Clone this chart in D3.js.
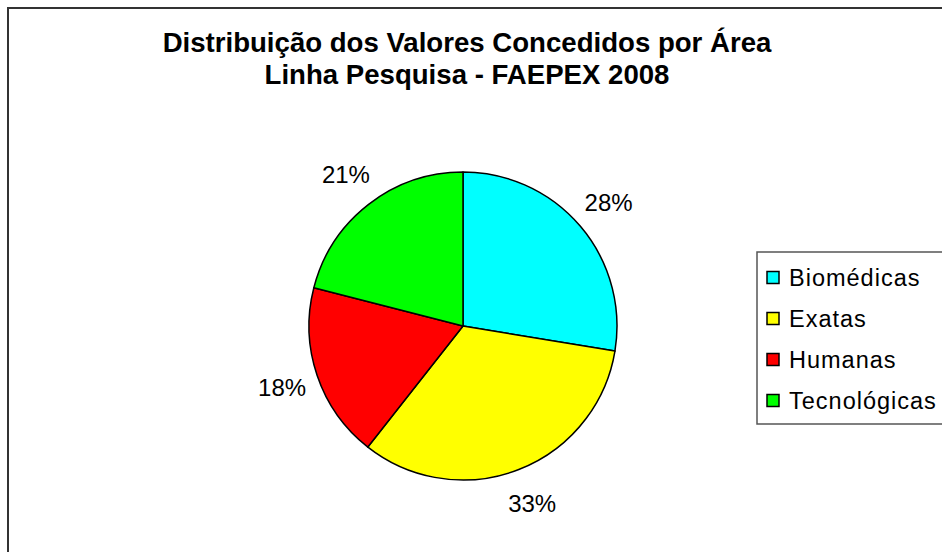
<!DOCTYPE html>
<html>
<head>
<meta charset="utf-8">
<script src="https://cdn.jsdelivr.net/npm/d3@7"></script>
<style>
  body { margin: 0; background: #fff; }
  text { font-family: Arial, "Liberation Sans", sans-serif; fill: #000; }
</style>
</head>
<body>
<script>
// chart data
var categories = ["Biomédicas", "Exatas", "Humanas", "Tecnológicas"];
var values = [27.6, 33.0, 18.4, 21.0];
var colors = ["#00ffff", "#ffff00", "#ff0000", "#00ff00"];
var titleLines = ["Distribuição dos Valores Concedidos por Área", "Linha Pesquisa - FAEPEX 2008"];

var width = 942,
    height = 552;

var svg = d3.select("body").append("svg")
    .attr("width", width)
    .attr("height", height);

// outer chart frame (right/bottom run off the page)
svg.append("rect")
    .attr("x", 8).attr("y", 8)
    .attr("width", width).attr("height", height)
    .attr("fill", "#fff")
    .attr("stroke", "#333")
    .attr("stroke-width", 2);

svg.selectAll(".title")
    .data(titleLines)
  .enter().append("text")
    .attr("class", "title")
    .attr("x", 467)
    .attr("y", function(d, i) { return 52 + i * 32; })
    .attr("text-anchor", "middle")
    .style("font-size", "27.6px")
    .style("font-weight", "bold")
    .text(function(d) { return d; });

var cx = 463, cy = 326, radius = 154;
var total = d3.sum(values);

var pie = d3.pie().sort(null).value(function(d) { return d; });
var arc = d3.arc().innerRadius(0).outerRadius(radius);
var labelArc = d3.arc().innerRadius(191).outerRadius(191);

var g = svg.append("g").attr("transform", "translate(" + cx + "," + cy + ")");

var slices = pie(values);

g.selectAll("path")
    .data(slices)
  .enter().append("path")
    .attr("d", arc)
    .attr("fill", function(d, i) { return colors[i]; })
    .attr("stroke", "#000")
    .attr("stroke-width", 1.5)
    .attr("stroke-linejoin", "round");

g.selectAll(".lbl")
    .data(slices)
  .enter().append("text")
    .attr("class", "lbl")
    .attr("transform", function(d) { return "translate(" + labelArc.centroid(d) + ")"; })
    .attr("text-anchor", "middle")
    .attr("dy", "0.35em")
    .style("font-size", "24px")
    .text(function(d) { return Math.round(d.value / total * 100) + "%"; });

// legend
var legend = svg.append("g").attr("transform", "translate(757,252)");

legend.append("rect")
    .attr("x", 0).attr("y", 0)
    .attr("width", 200).attr("height", 172)
    .attr("fill", "#fff")
    .attr("stroke", "#555")
    .attr("stroke-width", 1.5);

var item = legend.selectAll(".item")
    .data(categories)
  .enter().append("g")
    .attr("class", "item")
    .attr("transform", function(d, i) { return "translate(0," + (25.5 + i * 41) + ")"; });

item.append("rect")
    .attr("x", 10).attr("y", -6)
    .attr("width", 12).attr("height", 12)
    .attr("fill", function(d, i) { return colors[i]; })
    .attr("stroke", "#000")
    .attr("stroke-width", 1.5);

item.append("text")
    .attr("x", 32)
    .attr("dy", "0.35em")
    .style("font-size", "23.5px")
    .style("letter-spacing", "1px")
    .text(function(d) { return d; });
</script>
</body>
</html>
